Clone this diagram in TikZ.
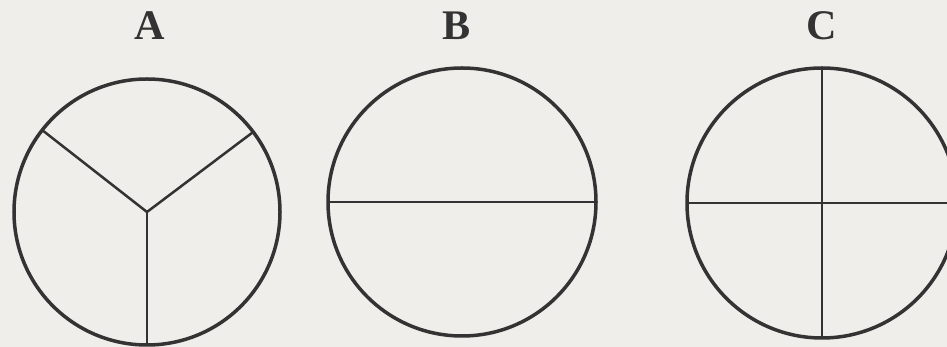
\documentclass[tikz,border=0pt]{standalone}
\usepackage{fontspec}
\setmainfont{Liberation Serif}
\definecolor{paper}{HTML}{EFEEEA}
\definecolor{ink}{HTML}{333333}
\tikzset{
  disc/.style={circle, draw=ink, line width=1.05mm, minimum size=#1,
    inner sep=0pt, outer sep=0pt},
  spoke/.style={draw=ink, line width=0.75mm},
  letter/.style={text=ink, font=\fontsize{36}{40}\selectfont\bfseries}
}
\begin{document}
\begin{tikzpicture}[x=0.3mm, y=-0.3mm]
  \useasboundingbox (0,0) rectangle (947,347);
  \fill[paper] (0,0) rectangle (947,347);
  % the three circles
  \node[disc=79.8mm] (circA) at (147,212) {};
  \node[disc=80.4mm] (circB) at (462,202) {};
  \node[disc=81mm] (circC) at (822,203) {};
  % letters above them
  \node[letter] (labA) at (150,26) {A};
  \node[letter] (labB) at (457,26) {B};
  \node[letter] (labC) at (822,26) {C};
  % A: three radii
  \draw[spoke] (circA.center) -- (circA.142);
  \draw[spoke] (circA.center) -- (circA.37);
  \draw[spoke] (circA.center) -- (circA.south);
  % B: one diameter
  \draw[spoke] (circB.west) -- (circB.east);
  % C: two diameters
  \draw[spoke] (circC.north) -- (circC.south);
  \draw[spoke] (circC.west) -- (circC.east);
\end{tikzpicture}
\end{document}
